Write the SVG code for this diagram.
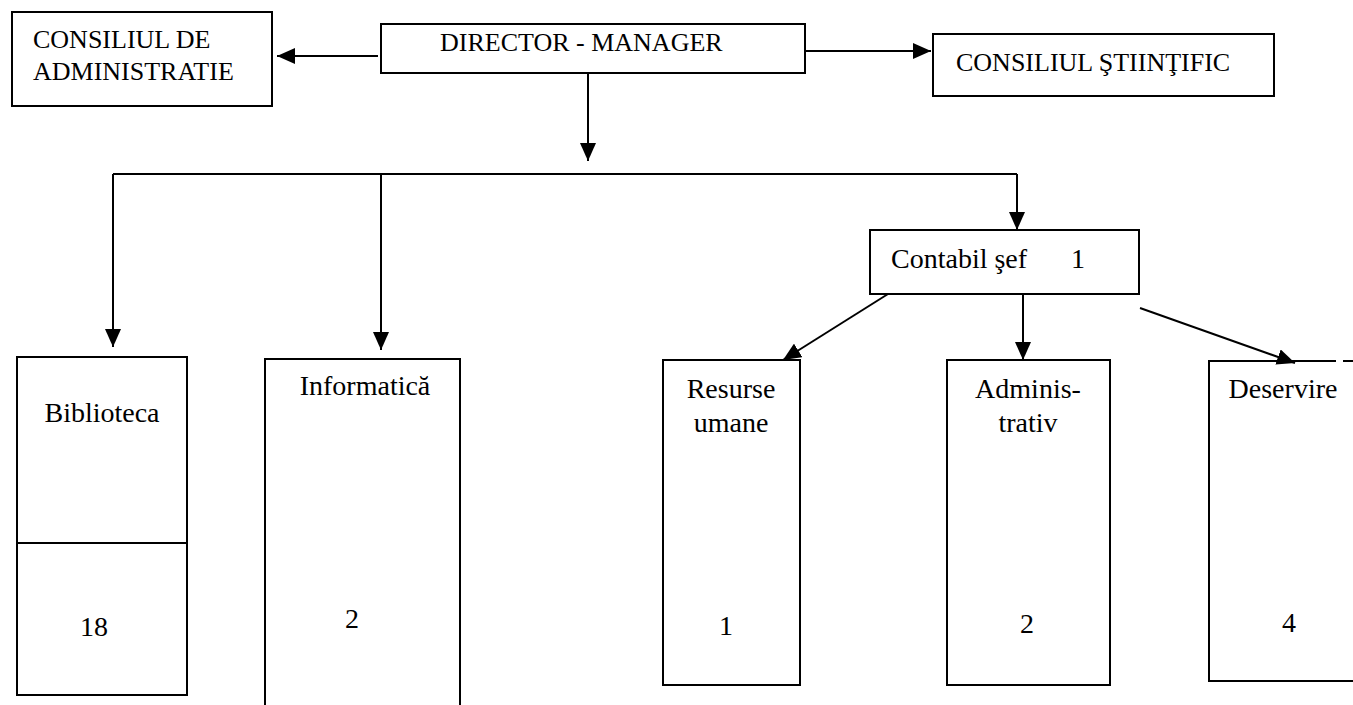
<svg xmlns="http://www.w3.org/2000/svg" width="1353" height="705" viewBox="0 0 1353 705">
<style>
.box{fill:#fff;stroke:#000;stroke-width:2}
.ln{fill:none;stroke:#000;stroke-width:2}
.t{font-family:"Liberation Serif","Times New Roman",serif;fill:#000}
.top{font-size:26px}
.low{font-size:28px}
.c{text-anchor:middle}
</style>
<defs>
<marker id="ah" markerUnits="userSpaceOnUse" markerWidth="18" markerHeight="16" viewBox="0 0 18 16" refX="18" refY="8" orient="auto">
<path d="M0,0 L18,8 L0,16 Z" fill="#000"/>
</marker>
</defs>
<g id="connectors">
<line class="ln" x1="378" y1="56" x2="277" y2="56" marker-end="url(#ah)"/>
<line class="ln" x1="805" y1="51" x2="931" y2="51" marker-end="url(#ah)"/>
<line class="ln" x1="588" y1="74" x2="588" y2="161" marker-end="url(#ah)"/>
<polyline class="ln" points="113,174 1017,174"/>
<polyline class="ln" points="113,174 113,347" marker-end="url(#ah)"/>
<line class="ln" x1="381" y1="174" x2="381" y2="350" marker-end="url(#ah)"/>
<line class="ln" x1="1017" y1="174" x2="1017" y2="230" marker-end="url(#ah)"/>
<line class="ln" x1="888" y1="294" x2="783" y2="360" marker-end="url(#ah)"/>
<line class="ln" x1="1023" y1="294" x2="1023" y2="360" marker-end="url(#ah)"/>
<line class="ln" x1="1140" y1="308" x2="1295" y2="363" marker-end="url(#ah)"/>
</g>
<g id="consiliul-administratie">
<rect class="box" x="12" y="12" width="260" height="94"/>
<text class="t top" x="33" y="48">CONSILIUL DE</text>
<text class="t top" x="33" y="80">ADMINISTRATIE</text>
</g>
<g id="director-manager">
<rect class="box" x="381" y="24" width="424" height="49"/>
<text class="t top" x="440" y="51">DIRECTOR - MANAGER</text>
</g>
<g id="consiliul-stiintific">
<rect class="box" x="933" y="34" width="341" height="62"/>
<text class="t top" x="956" y="71">CONSILIUL ŞTIINŢIFIC</text>
</g>
<g id="contabil-sef">
<rect class="box" x="870" y="230" width="269" height="64"/>
<text class="t low" x="891" y="268">Contabil şef</text>
<text class="t low c" x="1078" y="268">1</text>
</g>
<g id="biblioteca">
<rect class="box" x="17" y="357" width="170" height="338"/>
<line class="ln" x1="17" y1="543" x2="187" y2="543"/>
<text class="t low c" x="102" y="422">Biblioteca</text>
<text class="t low c" x="94" y="636">18</text>
</g>
<g id="informatica">
<rect class="box" x="265" y="359" width="195" height="360"/>
<text class="t low c" x="365" y="395">Informatică</text>
<text class="t low c" x="352" y="628">2</text>
</g>
<g id="resurse-umane">
<rect class="box" x="663" y="360" width="137" height="325"/>
<text class="t low c" x="731" y="398">Resurse</text>
<text class="t low c" x="731" y="432">umane</text>
<text class="t low c" x="726" y="635">1</text>
</g>
<g id="administrativ">
<rect class="box" x="947" y="360" width="163" height="325"/>
<text class="t low c" x="1028" y="398">Adminis-</text>
<text class="t low c" x="1028" y="432">trativ</text>
<text class="t low c" x="1027" y="633">2</text>
</g>
<g id="deservire">
<path class="ln" d="M1336,361 L1209,361 L1209,681 L1353,681"/>
<line class="ln" x1="1343" y1="361" x2="1353" y2="361"/>
<text class="t low c" x="1283" y="398">Deservire</text>
<text class="t low c" x="1289" y="632">4</text>
</g>
</svg>
